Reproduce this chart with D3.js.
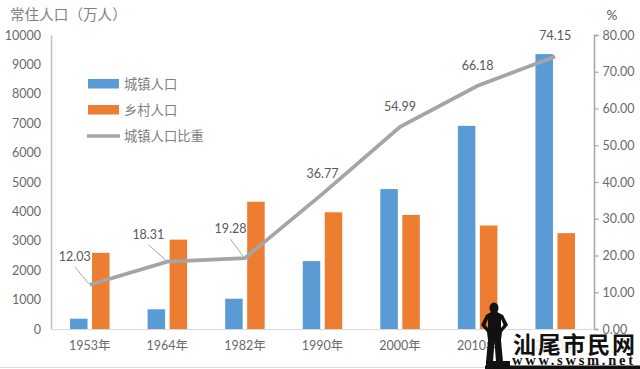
<!DOCTYPE html>
<html>
<head>
<meta charset="utf-8">
<script src="https://cdn.jsdelivr.net/npm/d3@7"></script>
<style>
  html, body { margin: 0; padding: 0; background: #fff; overflow: hidden; }
  svg { display: block; font-family: "Noto Sans CJK SC", "Liberation Sans", sans-serif; }
  .tick-label { font-size: 12.5px; fill: #6a6a6a; font-family: Lato, "Noto Sans CJK SC", sans-serif; }
</style>
</head>
<body>
<div id="chart"></div>
<script>
// Values
const years = ['1953年', '1964年', '1982年', '1990年', '2000年', '2010年', '2020年'];
const urban = [350, 670, 1030, 2310, 4760, 6910, 9350];
const rural = [2590, 3040, 4330, 3970, 3880, 3520, 3260];
const share = [12.03, 18.31, 19.28, 36.77, 54.99, 66.18, 74.15];
const leftTicks = [0, 1000, 2000, 3000, 4000, 5000, 6000, 7000, 8000, 9000, 10000];
const rightTicks = [0, 10, 20, 30, 40, 50, 60, 70, 80];
const legendItems = ['城镇人口', '乡村人口', '城镇人口比重'];

const width = 640, height = 369;
const margin = { top: 35, right: 46, bottom: 40, left: 51 };
const blue = '#5b9bd5', orange = '#ed7d31', grey = '#a5a5a5', text = '#595959';

const svg = d3.select('#chart').append('svg')
  .attr('width', width).attr('height', height);

const xScale = d3.scaleBand().domain(years).range([margin.left, width - margin.right]);
const yLeft = d3.scaleLinear().domain([0, 10000]).range([height - margin.bottom, margin.top]);
const yRight = d3.scaleLinear().domain([0, 80]).range([height - margin.bottom, margin.top]);
const barW = 17.5, barGap = 4.5;

// Bars
const drawBars = (values, color, dx) => {
  svg.append('g').selectAll('rect')
    .data(values)
    .join('rect')
    .attr('x', (d, i) => xScale(years[i]) + xScale.bandwidth() / 2 + dx)
    .attr('y', d => yLeft(d))
    .attr('width', barW)
    .attr('height', d => yLeft(0) - yLeft(d))
    .attr('fill', color);
};
drawBars(urban, blue, -barW - barGap / 2);
drawBars(rural, orange, barGap / 2);

// Axes
const left = svg.append('g')
  .attr('transform', `translate(${margin.left},0)`)
  .call(d3.axisLeft(yLeft).tickValues(leftTicks).tickSize(0).tickPadding(10).tickFormat(d3.format('d')));
left.select('.domain').attr('stroke', '#bfbfbf').attr('stroke-width', 1.5);

const right = svg.append('g')
  .attr('transform', `translate(${width - margin.right},0)`)
  .call(d3.axisRight(yRight).tickValues(rightTicks).tickSizeOuter(0).tickSize(4.5).tickPadding(4).tickFormat(d3.format('.2f')));
right.select('.domain').attr('stroke', grey).attr('stroke-width', 1.5);
right.selectAll('.tick line').attr('stroke', grey).attr('stroke-width', 1.2);

const bottom = svg.append('g')
  .attr('transform', `translate(0,${height - margin.bottom})`)
  .call(d3.axisBottom(xScale).tickSize(0).tickPadding(12));
bottom.select('.domain').attr('stroke', '#d9d9d9').attr('stroke-width', 1.2);

svg.selectAll('.tick text').attr('class', 'tick-label');
svg.selectAll('g').filter(function () { return this.hasAttribute('font-family'); })
  .attr('font-family', null).attr('font-size', null);

// Line
const line = d3.line()
  .x((d, i) => xScale(years[i]) + xScale.bandwidth() / 2)
  .y(d => yRight(d));
svg.append('path')
  .datum(share)
  .attr('d', line)
  .attr('fill', 'none')
  .attr('stroke', grey)
  .attr('stroke-width', 3.8);

// Labels: offset from each point, first three have a leader line
const labelDx = [-15, -19, -14.5, 0, 0, 0, 0];
const labelDy = [-24, -23, -25, -16, -16, -16, -16.5];
share.forEach((v, i) => {
  const px = xScale(years[i]) + xScale.bandwidth() / 2, py = yRight(v);
  if (i < 3) {
    svg.append('line')
      .attr('x1', px - 1).attr('y1', py - 1)
      .attr('x2', px + labelDx[i]).attr('y2', py + labelDy[i] + 6)
      .attr('stroke', '#a6a6a6').attr('stroke-width', 1);
  }
  svg.append('text')
    .attr('x', px + labelDx[i]).attr('y', py + labelDy[i])
    .attr('text-anchor', 'middle')
    .attr('font-size', 12.5)
    .attr('font-family', 'Lato, sans-serif')
    .attr('fill', text)
    .text(v.toFixed(2));
});

// Axis titles
svg.append('text').attr('x', 10).attr('y', 20)
  .attr('font-size', 14.6).attr('fill', '#7f7f7f')
  .text('常住人口（万人）');
svg.append('text').attr('x', 612).attr('y', 20).attr('text-anchor', 'middle')
  .attr('font-size', 13.5).attr('fill', text).attr('font-family', 'Lato, sans-serif')
  .text('%');

// Legend
const legendY = [84, 110, 136];
legendItems.forEach((name, i) => {
  if (i < 2) {
    svg.append('rect').attr('x', 88).attr('y', legendY[i] - 5).attr('width', 31).attr('height', 9.5)
      .attr('fill', i === 0 ? blue : orange);
  } else {
    svg.append('line').attr('x1', 87).attr('x2', 120).attr('y1', legendY[i]).attr('y2', legendY[i])
      .attr('stroke', grey).attr('stroke-width', 3.5);
  }
  svg.append('text').attr('x', 124).attr('y', legendY[i] + 5)
    .attr('font-size', 13.3).attr('fill', '#7f7f7f').text(name);
});

// Bottom edge of the picture
svg.append('line').attr('x1', 0).attr('x2', width).attr('y1', 367.5).attr('y2', 367.5)
  .attr('stroke', '#d9d9d9').attr('stroke-width', 1);

// Site watermark
const mark = svg.append('g');
mark.append('rect').attr('x', 510).attr('y', 334).attr('width', 130).attr('height', 32)
  .attr('fill', '#fff').attr('fill-opacity', 0.82);
mark.append('rect').attr('x', 485).attr('y', 365.5).attr('width', 155).attr('height', 3.5).attr('fill', '#111');
mark.append('rect').attr('x', 486).attr('y', 361).attr('width', 24).attr('height', 6).attr('fill', '#111');
mark.append('ellipse').attr('cx', 494).attr('cy', 308).attr('rx', 4.5).attr('ry', 5.5).attr('fill', '#111');
mark.append('path')
  .attr('fill', '#111')
  .attr('fill-rule', 'evenodd')
  .attr('d', 'M491 312 L497 312 L503 315 L508 325 L502 332 L501 340 L503 362 L496 362 L494.5 342 L493 362 L486 362 L488 340 L487 332 L481 325 L486 315 Z M488 319 L485.5 325 L488 328 Z M501 319 L501 328 L503.5 325 Z');
mark.append('text').attr('x', 513).attr('y', 353)
  .attr('font-size', 23).attr('font-weight', 700).attr('fill', '#111')
  .attr('font-family', '"Noto Sans CJK SC", sans-serif')
  .attr('textLength', 122).attr('lengthAdjust', 'spacing')
  .text('汕尾市民网');
mark.append('text').attr('x', 512).attr('y', 364.5)
  .attr('font-size', 14.5).attr('font-weight', 700).attr('fill', '#111')
  .attr('font-family', '"Liberation Serif", serif')
  .attr('textLength', 121)
  .text('www.swsm.net');
</script>
</body>
</html>
